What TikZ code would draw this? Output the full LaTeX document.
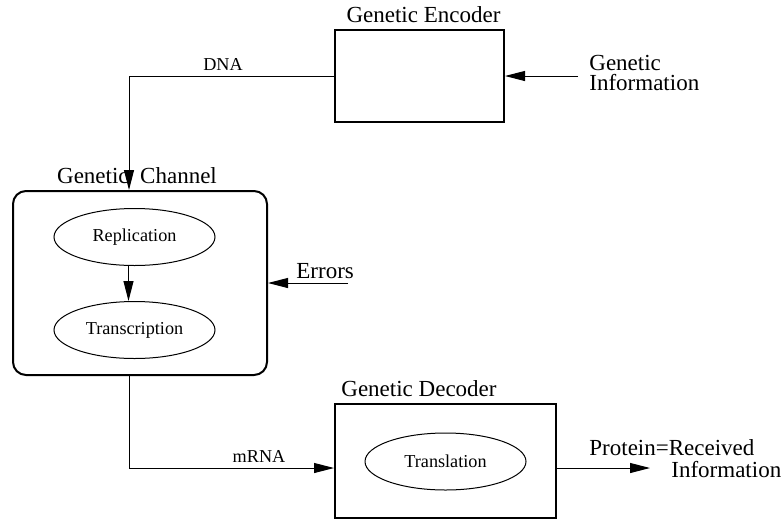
\documentclass[tikz,border=0pt]{standalone}
\usepackage{fontspec}
\setmainfont{Liberation Serif}
\usetikzlibrary{shapes.geometric, arrows.meta, positioning, calc}

\begin{document}
\begin{tikzpicture}[
    x=0.5pt, y=-0.5pt,
    node distance=3pt,
    box/.style={rectangle, draw, line width=1pt, inner sep=0pt},
    stage/.style={ellipse, draw, line width=0.5pt, minimum width=80.5pt, minimum height=28.5pt, inner sep=0pt, font=\fontsize{9.1}{10}\selectfont},
    title/.style={inner sep=0pt, font=\fontsize{11.5}{12}\selectfont},
    signal/.style={inner sep=0pt, font=\fontsize{9.1}{10}\selectfont},
    arrow/.style={-{Triangle[length=10pt, width=5pt]}, line width=0.5pt}
]
    \useasboundingbox (0,0) rectangle (781,520);

    % Encoder
    \node[box, minimum width=84.5pt, minimum height=46pt] (encoder) at (419.5,76) {};
    \node[title, above=3pt of encoder, xshift=2pt] (encoderTitle) {Genetic Encoder};

    % Channel
    \node[box, rounded corners=6.5pt, minimum width=127pt, minimum height=92pt] (channel) at (140,283) {};
    \node[title, above=3pt of channel, xshift=-1.5pt] (channelTitle) {Genetic\ \ Channel};
    \node[stage] (replication) at (134.5,237) {Replication};
    \node[stage, below=17.5pt of replication] (transcription) {Transcription};

    % Decoder
    \node[box, minimum width=110.5pt, minimum height=57pt] (decoder) at (445.5,461) {};
    \node[title, anchor=south west] (decoderTitle) at ([xshift=3.5pt, yshift=3pt]decoder.north west) {Genetic Decoder};
    \node[stage] (translation) at (445.5,461.5) {Translation};

    % Inputs and outputs
    \coordinate (infoIn) at (578,76);
    \node[title, anchor=north west, align=left, font=\fontsize{11.5}{10}\selectfont] (infoText) at (589,55) {Genetic\\Information};
    \coordinate (errorsIn) at (348,283);
    \node[title, anchor=base west] (errorsText) at (296,278) {Errors};
    \coordinate (proteinOut) at (650,468);
    \node[title, anchor=north west, align=left, font=\fontsize{11.5}{11}\selectfont] (proteinText) at (589,439) {Protein=Received\\\hspace*{41pt}Information};
    \node[signal, anchor=base] (dnaText) at (223,70) {DNA};
    \node[signal, anchor=base] (mrnaText) at (259,462) {mRNA};

    % Arrows
    \draw[arrow] (encoder.west) -| ([xshift=-5.5pt]channel.north);
    \draw[arrow] (infoIn) -- (encoder.east);
    \draw[arrow] (errorsIn) -- (channel.east);
    \draw[arrow] ([xshift=-3pt]replication.south) -- ([xshift=-3pt]transcription.north);
    \draw[arrow] ([xshift=-5.5pt]channel.south) |- ([yshift=-3.5pt]decoder.west);
    \draw[arrow] ([yshift=-3.5pt]decoder.east) -- (proteinOut);

\end{tikzpicture}
\end{document}
